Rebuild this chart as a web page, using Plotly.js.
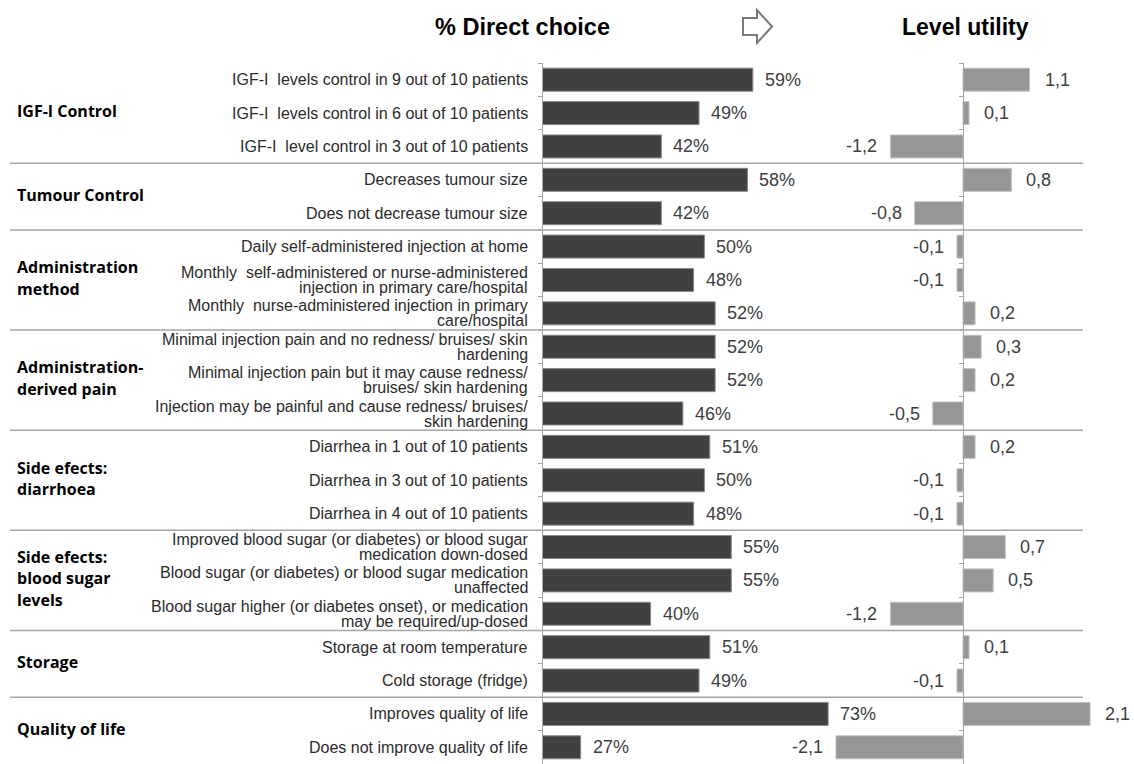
<!DOCTYPE html>
<html>
<head>
<meta charset="utf-8">
<script src="https://cdn.plot.ly/plotly-3.0.1.min.js"></script>
<style>html,body{margin:0;padding:0;background:#fff;}#chart{width:1134px;height:764px;}</style>
</head>
<body>
<div id="chart"></div>
<script>
// ---- data ----
const groupNames = [
  "IGF-I Control",
  "Tumour Control",
  "Administration\nmethod",
  "Administration-\nderived pain",
  "Side efects:\ndiarrhoea",
  "Side efects:\nblood sugar\nlevels",
  "Storage",
  "Quality of life"
];
const groupSizes = [3, 2, 3, 3, 3, 3, 2, 2];
const levels = [
  "IGF-I  levels control in 9 out of 10 patients",
  "IGF-I  levels control in 6 out of 10 patients",
  "IGF-I  level control in 3 out of 10 patients",
  "Decreases tumour size",
  "Does not decrease tumour size",
  "Daily self-administered injection at home",
  "Monthly  self-administered or nurse-administered\ninjection in primary care/hospital",
  "Monthly  nurse-administered injection in primary\ncare/hospital",
  "Minimal injection pain and no redness/ bruises/ skin\nhardening",
  "Minimal injection pain but it may cause redness/\nbruises/ skin hardening",
  "Injection may be painful and cause redness/ bruises/\nskin hardening",
  "Diarrhea in 1 out of 10 patients",
  "Diarrhea in 3 out of 10 patients",
  "Diarrhea in 4 out of 10 patients",
  "Improved blood sugar (or diabetes) or blood sugar\nmedication down-dosed",
  "Blood sugar (or diabetes) or blood sugar medication\nunaffected",
  "Blood sugar higher (or diabetes onset), or medication\nmay be required/up-dosed",
  "Storage at room temperature",
  "Cold storage (fridge)",
  "Improves quality of life",
  "Does not improve quality of life"
];
const directChoice = [59, 49, 42, 58, 42, 50, 48, 52, 52, 52, 46, 51, 50, 48, 55, 55, 40, 51, 49, 73, 27];
const levelUtility = [1.1, 0.1, -1.2, 0.8, -0.8, -0.1, -0.1, 0.2, 0.3, 0.2, -0.5, 0.2, -0.1, -0.1, 0.7, 0.5, -1.2, 0.1, -0.1, 2.1, -2.1];
const titleLeft = "% Direct choice";
const titleRight = "Level utility";

// ---- layout helpers ----
const W = 1134, H = 764, T = 63;
const PH = H - T;
const px = v => v / W;
const py = v => 1 + (T - v) / PH;
const FONT = "Liberation Sans, Arial, sans-serif";
const cats = levels.map(s => s.replace(/\n/g, " "));

const x1Dom = [px(543), px(839)];
const x1Range = [20, 20 + (839 - 543) / 5.38];
const zeroPx = 963, uScale = 60.5;
const x2Dom = [px(830), 1];
const x2Range = [-(zeroPx - 830) / uScale, (W - zeroPx) / uScale];

const fmtU = v => v.toFixed(1).replace('.', ',');

const traces = [
  {
    type: 'bar', orientation: 'h', x: directChoice, y: cats,
    xaxis: 'x', yaxis: 'y', width: 0.69,
    marker: {color: '#404040', line: {color: '#8a8a8a', width: 1}},
    hoverinfo: 'skip'
  },
  {
    type: 'bar', orientation: 'h', x: levelUtility, y: cats,
    xaxis: 'x2', yaxis: 'y2', width: 0.69,
    marker: {color: '#969696', line: {color: '#c4c4c4', width: 1}},
    hoverinfo: 'skip'
  }
];

const annotations = [];
// level labels
levels.forEach((lab, i) => {
  const lines = lab.split("\n");
  const n = lines.length;
  lines.forEach((ln, k) => {
    annotations.push({
      xref: 'paper', x: px(530), xanchor: 'right',
      yref: 'y', y: i, yanchor: 'middle', yshift: ((n - 1) / 2 - k) * 15,
      text: ln.replace(/  /g, ' \u00a0'), showarrow: false,
      font: {family: FONT, size: 16, color: '#2b2b2b'}
    });
  });
});
// group labels
let start = 0;
const bounds = [];
groupNames.forEach((g, gi) => {
  const end = start + groupSizes[gi] - 1;
  const mid = (start + end) / 2;
  const lines = g.split("\n");
  const n = lines.length;
  lines.forEach((ln, k) => {
    annotations.push({
      xref: 'paper', x: px(15), xanchor: 'left',
      yref: 'y', y: mid, yanchor: 'middle', yshift: 2 + ((n - 1) / 2 - k) * 21.5,
      text: '<b>' + ln + '</b>', showarrow: false,
      font: {family: "Open Sans, sans-serif", size: 16, color: '#000'}
    });
  });
  start = end + 1;
  if (gi < groupNames.length - 1) bounds.push(start - 0.5);
});
// value labels
directChoice.forEach((v, i) => {
  annotations.push({
    xref: 'x', x: v, xanchor: 'left', xshift: 10,
    yref: 'y', y: i, yanchor: 'middle',
    text: v + '%', showarrow: false,
    font: {family: FONT, size: 18, color: '#404040'}
  });
});
levelUtility.forEach((v, i) => {
  annotations.push({
    xref: 'x2', x: v, xanchor: v >= 0 ? 'left' : 'right', xshift: v >= 0 ? 13 : -11,
    yref: 'y2', y: i, yanchor: 'middle',
    text: fmtU(v), showarrow: false,
    font: {family: FONT, size: 18, color: '#404040'}
  });
});
// titles
annotations.push({
  xref: 'paper', yref: 'paper', x: px(522), y: py(27), xanchor: 'center', yanchor: 'middle',
  text: '<b>' + titleLeft + '</b>', showarrow: false,
  font: {family: FONT, size: 23.5, color: '#000'}
});
annotations.push({
  xref: 'paper', yref: 'paper', x: px(965), y: py(27), xanchor: 'center', yanchor: 'middle',
  text: '<b>' + titleRight + '</b>', showarrow: false,
  font: {family: FONT, size: 23, color: '#000'}
});

const shapes = bounds.map(b => ({
  type: 'line', xref: 'paper', yref: 'y',
  x0: px(10), x1: px(1083), y0: b, y1: b,
  line: {color: '#a6a6a6', width: 1.5}
}));
// arrow outline
const arrowPts = [[743, 18], [757, 18], [757, 10], [772, 26.5], [757, 43], [757, 35], [743, 35]];
shapes.push({
  type: 'path', xref: 'paper', yref: 'paper',
  path: 'M ' + arrowPts.map(p => px(p[0]) + ',' + py(p[1])).join(' L ') + ' Z',
  line: {color: '#7a7a7a', width: 2}, fillcolor: '#fff'
});

const layout = {
  width: W, height: H,
  margin: {l: 0, r: 0, t: T, b: 0, pad: 0},
  paper_bgcolor: '#fff', plot_bgcolor: 'rgba(0,0,0,0)',
  showlegend: false,
  font: {family: FONT},
  xaxis: {domain: x1Dom, range: x1Range, visible: false, fixedrange: true, anchor: 'y'},
  yaxis: {
    type: 'category', range: [20.5, -0.5], anchor: 'x',
    showline: true, linecolor: '#a6a6a6', linewidth: 1,
    ticks: 'outside', tickson: 'boundaries', ticklen: 4, tickcolor: '#a6a6a6', tickwidth: 1,
    showticklabels: false, showgrid: false, zeroline: false, fixedrange: true
  },
  xaxis2: {domain: x2Dom, range: x2Range, visible: false, fixedrange: true, anchor: 'y2'},
  yaxis2: {
    type: 'category', range: [20.5, -0.5], anchor: 'free', position: px(zeroPx), side: 'left',
    showline: true, linecolor: '#a6a6a6', linewidth: 1,
    ticks: 'outside', tickson: 'boundaries', ticklen: 4, tickcolor: '#a6a6a6', tickwidth: 1,
    showticklabels: false, showgrid: false, zeroline: false, fixedrange: true
  },
  annotations: annotations,
  shapes: shapes
};

Plotly.newPlot('chart', traces, layout, {staticPlot: true, displayModeBar: false});
</script>
</body>
</html>
